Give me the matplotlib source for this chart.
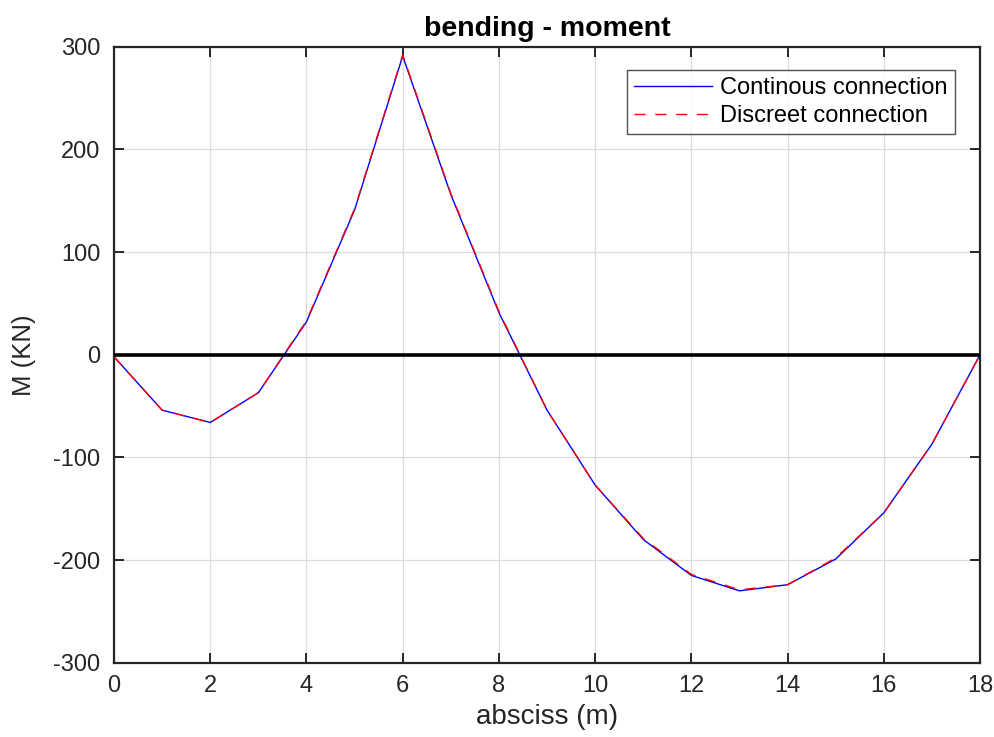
import matplotlib
matplotlib.use("Agg")
import matplotlib.pyplot as plt
import numpy as np

plt.rcParams['font.family'] = ['Liberation Sans', 'DejaVu Sans']
plt.rcParams['axes.unicode_minus'] = False

# Abscissa positions along the beam (m)
abscissa = [0, 1, 2, 3, 4, 5, 6, 7, 8, 9, 10, 11, 12, 13, 14, 15, 16, 17, 18]
# Bending moment, continuous connection (kN)
moment_continuous = [-2, -54, -66, -37, 32, 141, 291, 156, 41, -54, -127,
                     -180, -215, -230, -224, -199, -154, -87, 0]
# Bending moment, discrete connection (kN)
moment_discrete = [-2, -54, -66, -37, 33, 142, 292, 157, 42, -54, -127,
                   -179, -214, -229, -224, -198, -154, -87, 0]

fig = plt.figure(figsize=(9.95, 7.37), dpi=100)
ax = fig.add_axes([0.1146, 0.1008, 0.8704, 0.8358])

ax.plot(abscissa, moment_continuous, color='blue', lw=1.0,
        label='Continous connection', zorder=3)
ax.plot(abscissa, moment_discrete, color='red', lw=1.0, ls=(0, (8, 7)),
        label='Discreet connection', zorder=4)
ax.plot([0, 18], [0, 0], color='black', lw=2.6, zorder=5)

ax.set_xlim(0, 18)
ax.set_ylim(-300, 300)
ax.set_xticks(np.arange(0, 19, 2))
ax.set_yticks(np.arange(-300, 301, 100))
ax.grid(True, color='#dcdcdc', lw=0.9)
ax.set_axisbelow(True)

for s in ax.spines.values():
    s.set_color('#262626')
    s.set_linewidth(1.6)
ax.tick_params(direction='in', length=7, width=1.4, colors='#262626',
               labelsize=17, top=True, right=True)
ax.tick_params(axis='y', pad=10)
ax.tick_params(axis='x', pad=9)

ax.set_title('bending - moment', fontsize=20.5, fontweight='bold', pad=8)
ax.set_xlabel('absciss (m)', fontsize=20, color='#262626', labelpad=5)
ax.set_ylabel('M (KN)', fontsize=18.5, color='#262626', labelpad=12)

leg = ax.legend(loc='upper right', bbox_to_anchor=(0.9705, 0.962), fontsize=17,
                frameon=True, fancybox=False, edgecolor='#262626',
                handlelength=3.3, borderpad=0.3, labelspacing=0.25,
                handletextpad=0.35, borderaxespad=0.0)
leg.get_frame().set_linewidth(1.0)

fig.savefig('out.png', dpi=100)
